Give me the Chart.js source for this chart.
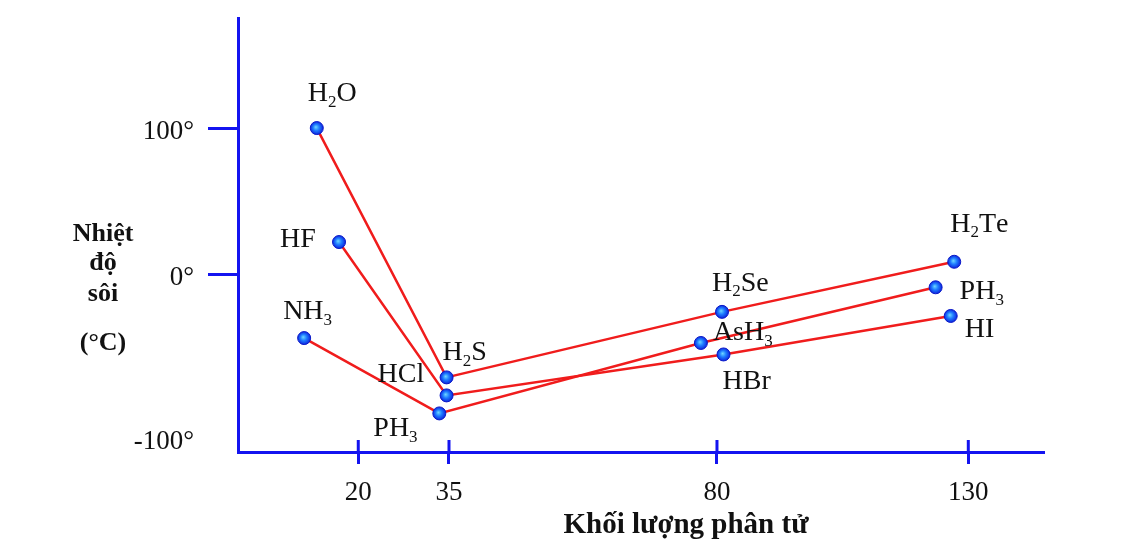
<!DOCTYPE html>
<html>
<head>
<meta charset="utf-8">
<script src="https://cdn.jsdelivr.net/npm/chart.js@4.4.1/dist/chart.umd.min.js"></script>
<style>
  html, body { margin: 0; padding: 0; background: #fff; }
  #khung { width: 1124px; height: 551px; }
</style>
</head>
<body>
<div id="khung"><canvas id="nhietDoSoi"></canvas></div>
<script>
// so lieu doc tu hinh (truc x: khoi luong phan tu, truc y: nhiet do soi)
const nhom16 = ['H2O', 'H2S', 'H2Se', 'H2Te']
const nhom16X = [13.1, 34.6, 81, 127.2]
const nhom16Y = [100, -63, -23, 8.5]

const nhom17 = ['HF', 'HCl', 'HBr', 'HI']
const nhom17X = [16.8, 34.6, 81.3, 126.5]
const nhom17Y = [22, -74, -49, -25.5]

const nhom15 = ['NH3', 'PH3', 'AsH3', 'PH3']
const nhom15X = [11, 33.4, 77.3, 123.5]
const nhom15Y = [-39, -85, -42, -8]

const xTicks = [20, 35, 80, 130]
const yTicks = [100, 0, -100]

// vi tri nhan so voi diem (px)
const nhanLech16 = [[-9, -27], [-4, -17], [-10, -21], [-4, -30]]
const nhanLech17 = [[-59, 5], [-69, -13], [-1, 35], [14, 21]]
const nhanLech15 = [[-21, -19], [-66, 23], [12, -3], [24, 12]]

const XANH = '#1414f0'
const DO = '#f01c1c'
const FONT = '"Liberation Serif", "Times New Roman", serif'

// truc ve tay: khong deu, noi suy tung doan
function sangTiLe(knots, v) {
  for (let i = 1; i < knots.length; i++) {
    const [v0, d0] = knots[i - 1]
    const [v1, d1] = knots[i]
    if (v <= v1 || i === knots.length - 1) return d0 + (v - v0) / (v1 - v0) * (d1 - d0)
  }
}
function tuTiLe(knots, d) {
  for (let i = 1; i < knots.length; i++) {
    const [v0, d0] = knots[i - 1]
    const [v1, d1] = knots[i]
    if (d <= d1 || i === knots.length - 1) return v0 + (d - d0) / (d1 - d0) * (v1 - v0)
  }
}
class TrucTungDoan extends Chart.LinearScale {
  getPixelForValue(value) {
    return this.getPixelForDecimal(sangTiLe(this.options.knots, value))
  }
  getValueForPixel(pixel) {
    return tuTiLe(this.options.knots, this.getDecimalForPixel(pixel))
  }
}
TrucTungDoan.id = 'tungdoan'
TrucTungDoan.defaults = Chart.LinearScale.defaults
Chart.register(TrucTungDoan)

function diem(xs, ys) {
  return xs.map((x, i) => ({ x: x, y: ys[i] }))
}

function mauDiem(context) {
  const chart = context.chart
  if (!context.parsed || !chart.chartArea) return '#2a6cff'
  const px = chart.scales.x.getPixelForValue(context.parsed.x)
  const py = chart.scales.y.getPixelForValue(context.parsed.y)
  const g = chart.ctx.createRadialGradient(px - 1, py - 1, 0, px, py, 7)
  g.addColorStop(0, '#6fd8ff')
  g.addColorStop(0.45, '#1f7cff')
  g.addColorStop(1, '#0a1ad8')
  return g
}

function nhomDataset(xs, ys, nhan, lech) {
  return {
    data: diem(xs, ys),
    nhan: nhan,
    lech: lech,
    borderColor: DO,
    borderWidth: 2.5,
    pointRadius: 6.5,
    pointHoverRadius: 6.5,
    pointBackgroundColor: mauDiem,
    pointBorderColor: '#0a18c8',
    pointBorderWidth: 1,
    tension: 0,
    fill: false
  }
}

// chu co chi so duoi: H2O, NH3...
function veCongThuc(ctx, text, x, y, size) {
  let cx = x
  for (const ch of text) {
    if (/[0-9]/.test(ch)) {
      ctx.font = Math.round(size * 0.62) + 'px ' + FONT
      ctx.fillText(ch, cx, y + size * 0.2)
    } else {
      ctx.font = size + 'px ' + FONT
      ctx.fillText(ch, cx, y)
    }
    cx += ctx.measureText(ch).width
  }
}

const nhanDiem = {
  id: 'nhanDiem',
  afterDatasetsDraw(chart) {
    const ctx = chart.ctx
    ctx.save()
    ctx.fillStyle = '#111'
    ctx.textAlign = 'left'
    ctx.textBaseline = 'alphabetic'
    chart.data.datasets.forEach((ds, di) => {
      chart.getDatasetMeta(di).data.forEach((pt, i) => {
        veCongThuc(ctx, ds.nhan[i], pt.x + ds.lech[i][0], pt.y + ds.lech[i][1], 28)
      })
    })
    ctx.restore()
  }
}

const tieuDeTruc = {
  id: 'tieuDeTruc',
  afterDraw(chart) {
    const ctx = chart.ctx
    const area = chart.chartArea
    const y0 = chart.scales.y.getPixelForValue(0)
    ctx.save()
    ctx.fillStyle = '#111'
    ctx.textAlign = 'center'
    ctx.textBaseline = 'alphabetic'
    ctx.font = 'bold 26px ' + FONT
    const cx = area.left - 135
    ctx.fillText('Nhiệt', cx, y0 - 33)
    ctx.fillText('độ', cx, y0 - 4)
    ctx.fillText('sôi', cx, y0 + 27)
    ctx.fillText('(°C)', cx, y0 + 76)
    ctx.font = 'bold 29px ' + FONT
    ctx.fillText('Khối lượng phân tử', area.left + 448, area.bottom + 81)
    // vach chia x nho len tren truc
    const sx = chart.scales.x
    ctx.strokeStyle = XANH
    ctx.lineWidth = 3
    sx.ticks.forEach((t) => {
      const px = sx.getPixelForValue(t.value)
      ctx.beginPath()
      ctx.moveTo(px, area.bottom)
      ctx.lineTo(px, area.bottom - 12)
      ctx.stroke()
    })
    ctx.restore()
  }
}

new Chart(document.getElementById('nhietDoSoi'), {
  type: 'line',
  data: {
    datasets: [
      nhomDataset(nhom16X, nhom16Y, nhom16, nhanLech16),
      nhomDataset(nhom17X, nhom17Y, nhom17, nhanLech17),
      nhomDataset(nhom15X, nhom15Y, nhom15, nhanLech15)
    ]
  },
  options: {
    responsive: true,
    maintainAspectRatio: false,
    animation: false,
    layout: {
      padding: { top: 18, right: 81, bottom: 0, left: 0 }
    },
    plugins: {
      legend: { display: false },
      tooltip: { enabled: false }
    },
    scales: {
      x: {
        type: 'tungdoan',
        min: 0,
        max: 145,
        knots: [[0, 0], [20, 0.1494], [35, 0.2621], [80, 0.595], [130, 0.9072], [145, 1]],
        afterBuildTicks: (scale) => { scale.ticks = xTicks.map((v) => ({ value: v })) },
        afterFit: (scale) => {
          scale.height = 99
          scale.paddingLeft = 0
          scale.paddingRight = 0
        },
        border: { color: XANH, width: 3 },
        grid: {
          drawOnChartArea: false,
          drawTicks: true,
          tickLength: 12,
          color: XANH,
          lineWidth: 3
        },
        ticks: {
          color: '#111',
          padding: 13,
          maxRotation: 0,
          font: { family: FONT, size: 27 }
        }
      },
      y: {
        type: 'tungdoan',
        min: -108.6,
        max: 175,
        knots: [[-108.6, 0], [-100, 0.0323], [0, 0.4097], [100, 0.7464], [175, 1]],
        afterBuildTicks: (scale) => { scale.ticks = yTicks.map((v) => ({ value: v })) },
        afterFit: (scale) => {
          scale.width = 238
          scale.paddingTop = 0
          scale.paddingBottom = 0
        },
        border: { color: XANH, width: 3 },
        grid: {
          drawOnChartArea: false,
          drawTicks: true,
          tickLength: 30,
          lineWidth: 3,
          color: (ctx) => (ctx.tick && ctx.tick.value === -100 ? 'rgba(0,0,0,0)' : XANH)
        },
        ticks: {
          color: '#111',
          padding: 14,
          labelOffset: 4,
          font: { family: FONT, size: 27 },
          callback: (v) => v + '°'
        }
      }
    }
  },
  plugins: [nhanDiem, tieuDeTruc]
})
</script>
</body>
</html>
